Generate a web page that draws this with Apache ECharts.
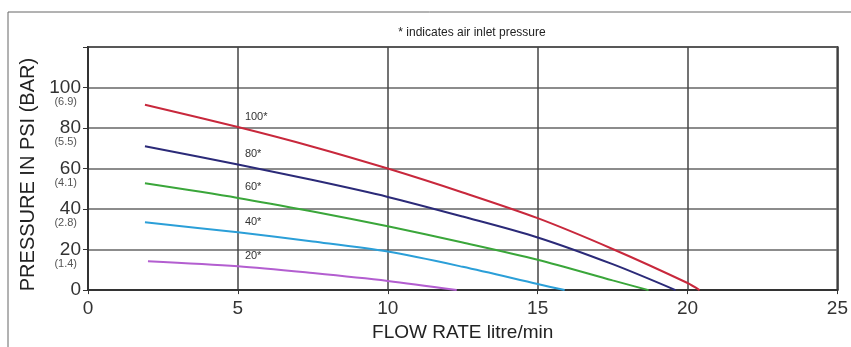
<!DOCTYPE html>
<html>
<head>
<meta charset="utf-8">
<script src="https://cdn.jsdelivr.net/npm/echarts@6/dist/echarts.min.js"></script>
<style>
  html, body { margin: 0; padding: 0; background: #fff; }
  #main { width: 851px; height: 347px; }
</style>
</head>
<body>
<div id="main"></div>
<script>
// curves: [flow litre/min, pressure psi]
var air100 = [[1.9, 91.5], [5, 80.5], [7.5, 70.8], [10, 60], [12.5, 48.2], [15, 35.5], [17.5, 20.3], [20, 3.5], [20.4, 0]];
var air80  = [[1.9, 71], [5, 62], [7.5, 54.3], [10, 46], [12.5, 36.3], [15, 26], [17.5, 12.8], [19.6, 0]];
var air60  = [[1.9, 52.7], [5, 45.5], [7.5, 38.8], [10, 31.5], [12.5, 23.5], [15, 15], [17.5, 4.8], [18.7, 0]];
var air40  = [[1.9, 33.5], [5, 28.5], [7.5, 24], [10, 19], [12.5, 11.5], [15, 3], [15.9, 0]];
var air20  = [[2, 14.3], [5, 11.8], [7.5, 8.4], [10, 4.5], [12.3, 0]];

var curveNames  = ['100*', '80*', '60*', '40*', '20*'];
var curveColors = ['#c8283c', '#2b2a78', '#3aa63a', '#2b9fd8', '#b35ed0'];
var curveData   = [air100, air80, air60, air40, air20];
var labelAtFlow = 5;   // curve label sits just right of the 5 l/min gridline

// bar equivalents printed under the psi ticks
var barLabels = { 20: '(1.4)', 40: '(2.8)', 60: '(4.1)', 80: '(5.5)', 100: '(6.9)' };

var font = 'Liberation Sans, Arial, sans-serif';

var series = [];
for (var i = 0; i < curveData.length; i++) {
  var pts = [];
  for (var j = 0; j < curveData[i].length; j++) {
    var p = curveData[i][j];
    if (p[0] === labelAtFlow) {
      pts.push({
        value: p,
        label: {
          show: true,
          formatter: curveNames[i],
          position: [7, -16],
          color: '#333',
          fontSize: 11,
          fontFamily: font
        }
      });
    } else {
      pts.push(p);
    }
  }
  series.push({
    name: curveNames[i],
    type: 'line',
    smooth: 0.3,
    symbol: 'circle',
    symbolSize: 0,
    showSymbol: true,
    lineStyle: { color: curveColors[i], width: 2 },
    itemStyle: { color: curveColors[i] },
    data: pts
  });
}

var myChart = echarts.init(document.getElementById('main'));
var option = {
  animation: false,
  backgroundColor: '#fff',
  title: {
    text: '* indicates air inlet pressure',
    left: 467,
    textAlign: 'center',
    top: 22,
    textStyle: { fontSize: 12, fontWeight: 'normal', color: '#222', fontFamily: font }
  },
  graphic: [
    { type: 'line', shape: { x1: 8, y1: 12, x2: 851, y2: 12 }, style: { stroke: '#666', lineWidth: 1 } },
    { type: 'line', shape: { x1: 8, y1: 12, x2: 8, y2: 347 }, style: { stroke: '#666', lineWidth: 1 } }
  ],
  grid: {
    left: 88, right: 13, top: 47, bottom: 56,
    show: true, borderColor: '#333', borderWidth: 2, backgroundColor: 'transparent'
  },
  xAxis: {
    type: 'value',
    min: 0, max: 25, interval: 5,
    name: 'FLOW RATE litre/min',
    nameLocation: 'middle',
    nameGap: 32,
    nameTextStyle: { fontSize: 19, color: '#222', fontFamily: font },
    axisLine: { lineStyle: { color: '#333', width: 2 } },
    axisTick: { show: true, length: 4, lineStyle: { color: '#333' } },
    axisLabel: { fontSize: 19, color: '#333', margin: 9, fontFamily: font },
    splitLine: { show: true, lineStyle: { color: '#444', width: 1.5 } }
  },
  yAxis: [{
    type: 'value',
    min: 0, max: 120, interval: 20,
    name: 'PRESSURE IN PSI (BAR)',
    nameLocation: 'middle',
    nameGap: 47,
    nameTextStyle: { fontSize: 20, color: '#222', fontFamily: font, padding: [0, 12, 0, 0] },
    axisLine: { show: true, lineStyle: { color: '#333', width: 2 } },
    axisTick: { show: true, length: 5, lineStyle: { color: '#333' } },
    axisLabel: {
      fontSize: 19, color: '#333', margin: 7, fontFamily: font,
      formatter: function (v) { return v > 100 ? '' : String(v); }
    },
    splitLine: { show: true, lineStyle: { color: '#666', width: 1.5 } }
  }, {
    type: 'value',
    position: 'left',
    min: 0, max: 120, interval: 20,
    axisLine: { show: false },
    axisTick: { show: false },
    splitLine: { show: false },
    axisLabel: {
      fontSize: 11, color: '#555', margin: 11, lineHeight: 28, fontFamily: font,
      formatter: function (v) { return barLabels[v] ? '\n' + barLabels[v] : ''; }
    }
  }],
  series: series
};
myChart.setOption(option);
</script>
</body>
</html>
